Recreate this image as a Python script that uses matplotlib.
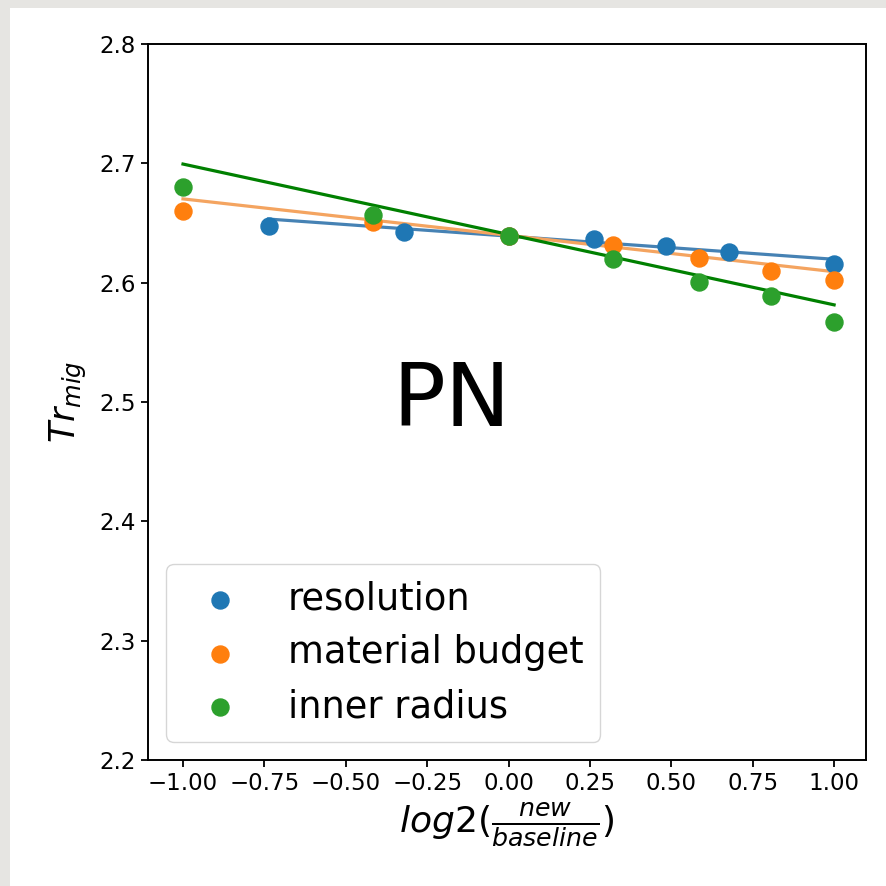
import numpy as np
import matplotlib
matplotlib.use("Agg")
import matplotlib.pyplot as plt
from matplotlib.patches import Rectangle

# Data (x = log2(new/baseline), y = Tr_mig)
res_x = [-0.737, -0.322, 0.0, 0.263, 0.485, 0.678, 1.0]
res_y = [2.6475, 2.6425, 2.639, 2.637, 2.6305, 2.6255, 2.6155]
mat_x = [-1.0, -0.415, 0.0, 0.322, 0.585, 0.807, 1.0]
mat_y = [2.660, 2.6505, 2.639, 2.6315, 2.621, 2.610, 2.602]
inn_x = [-1.0, -0.415, 0.0, 0.322, 0.585, 0.807, 1.0]
inn_y = [2.680, 2.6565, 2.639, 2.6195, 2.6005, 2.589, 2.567]

labels = ["resolution", "material budget", "inner radius"]

# linear fits as drawn in the reference (slope, intercept)
fit_slope = [-0.0194, -0.0305, -0.0590]
fit_intercept = [2.6390, 2.6397, 2.6404]

fig = plt.figure(figsize=(8.86, 8.86), dpi=100)
fig.patch.set_facecolor("#e6e5e2")
bg = Rectangle((10/886, 0), 1, 1 - 8/886, transform=fig.transFigure,
               facecolor="white", edgecolor="none", zorder=-10)
fig.add_artist(bg)

ax = fig.add_axes([148/886, 1 - 760/886, 718/886, 716/886])
ax.set_zorder(1)

series = [(res_x, res_y, "#1f77b4", "steelblue"),
          (mat_x, mat_y, "#ff7f0e", "sandybrown"),
          (inn_x, inn_y, "#2ca02c", "green")]

for (x, y, c, lc), lab, m, b in zip(series, labels, fit_slope, fit_intercept):
    ax.scatter(x, y, s=150, color=c, label=lab, zorder=3)
    xx = np.array([min(x), max(x)])
    ax.plot(xx, m * xx + b, color=lc, lw=2.3, zorder=2)

ax.set_ylim(2.2, 2.8)
ax.set_xlim(-1.1075, 1.098)
ax.set_xticks([-1.0, -0.75, -0.5, -0.25, 0.0, 0.25, 0.5, 0.75, 1.0])
ax.set_yticks([2.2, 2.3, 2.4, 2.5, 2.6, 2.7, 2.8])
ax.tick_params(labelsize=16.5, length=5, width=1.3)
for s in ax.spines.values():
    s.set_linewidth(1.4)

ax.set_xlabel(r"$log2(\frac{new}{baseline})$", fontsize=26, labelpad=4)
ax.set_ylabel(r"$Tr_{mig}$", fontsize=25, labelpad=8)

ax.text(-0.174, 2.500, "PN", fontsize=63, ha="center", va="center")

ax.legend(loc="lower left", fontsize=26.5, handletextpad=0.85, borderpad=0.45,
          labelspacing=0.45)

fig.savefig("out.png", dpi=100, facecolor=fig.get_facecolor())
